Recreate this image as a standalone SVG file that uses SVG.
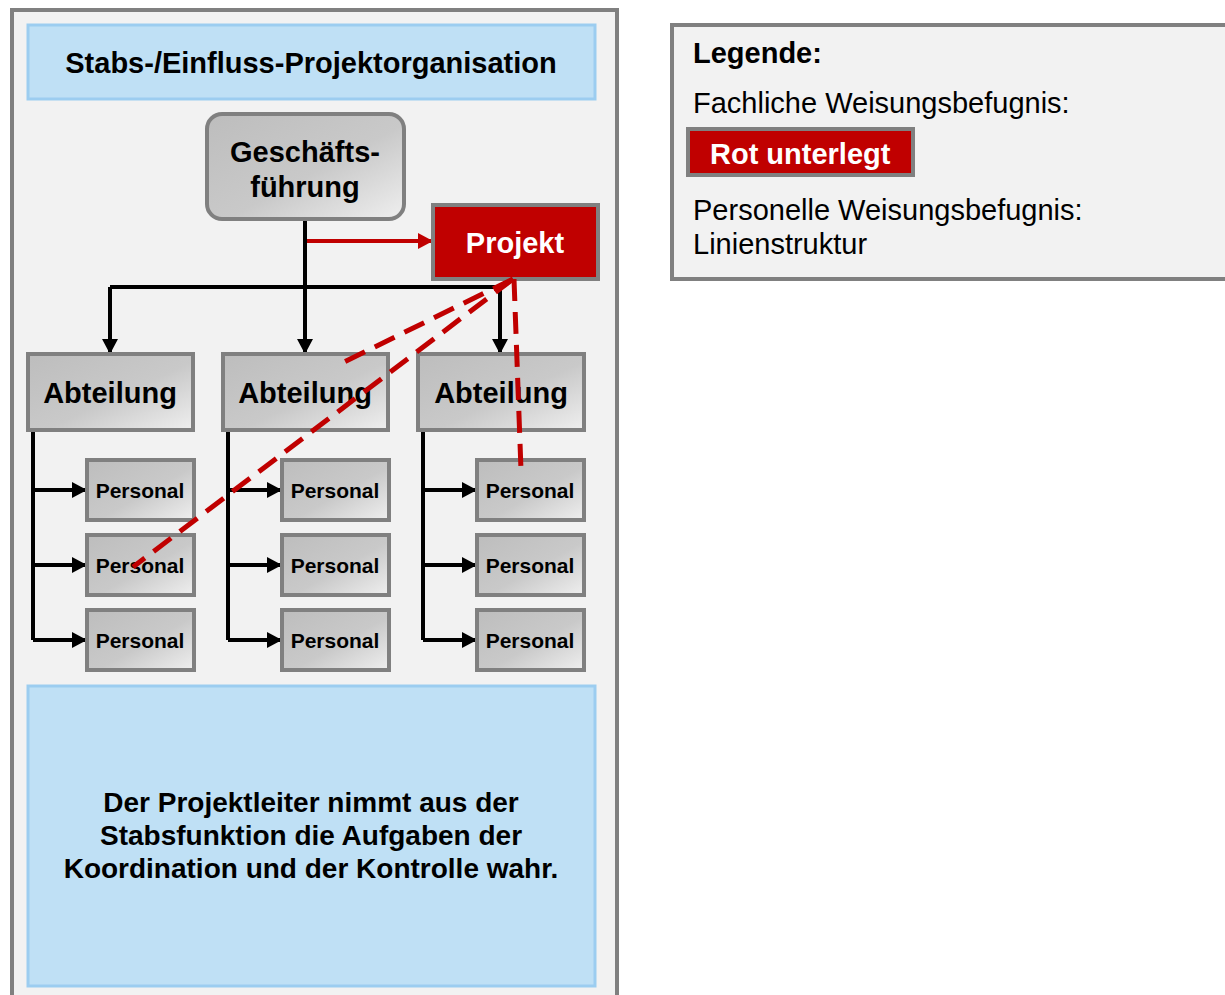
<svg xmlns="http://www.w3.org/2000/svg" width="1225" height="995" viewBox="0 0 1225 995">
<defs>
<linearGradient id="gg" x1="0" y1="0" x2="1" y2="1">
<stop offset="0" stop-color="#bdbdbd"/>
<stop offset="0.55" stop-color="#c9c9c9"/>
<stop offset="1" stop-color="#efefef"/>
</linearGradient>
<marker id="ab" markerWidth="16" markerHeight="16" refX="14" refY="8" orient="auto" markerUnits="userSpaceOnUse">
<path d="M0,0 L15,8 L0,16 Z" fill="#000"/>
</marker>
<marker id="ar" markerWidth="16" markerHeight="16" refX="14" refY="8" orient="auto" markerUnits="userSpaceOnUse">
<path d="M0,0 L15,8 L0,16 Z" fill="#c00000"/>
</marker>
</defs>
<style>
text{font-family:"Liberation Sans",Arial,sans-serif;}
.b{font-weight:bold;}
.box{fill:url(#gg);stroke:#808080;stroke-width:4;}
.blue{fill:#bfe0f5;stroke:#9ccdf0;stroke-width:3;}
.red{fill:#c00000;stroke:#808080;stroke-width:4;}
.ln{fill:none;stroke:#000;stroke-width:4;}
.rd{fill:none;stroke:#c00000;stroke-width:5;stroke-dasharray:22 11;}
.ab{font-size:29px;font-weight:bold;text-anchor:middle;}
.ps{font-size:21px;font-weight:bold;text-anchor:middle;}
.lg{font-size:29px;}
</style>
<rect x="0" y="0" width="1225" height="995" fill="#fff"/>
<g id="panel">
<rect x="12" y="10" width="605" height="1000" fill="#f2f2f2" stroke="#808080" stroke-width="4"/>
</g>
<g id="title">
<rect class="blue" x="28" y="25" width="567" height="74"/>
<text class="b" x="311" y="73" font-size="29" text-anchor="middle">Stabs-/Einfluss-Projektorganisation</text>
</g>
<g id="connectors">
<path class="ln" d="M305,219 V287"/>
<path class="ln" d="M110,287 H500"/>
<path class="ln" d="M110,287 V353" marker-end="url(#ab)"/>
<path class="ln" d="M305,287 V353" marker-end="url(#ab)"/>
<path class="ln" d="M500,287 V353" marker-end="url(#ab)"/>
<path class="ln" d="M33,430 V640"/>
<path class="ln" d="M33,490 H86" marker-end="url(#ab)"/>
<path class="ln" d="M33,565 H86" marker-end="url(#ab)"/>
<path class="ln" d="M33,640 H86" marker-end="url(#ab)"/>
<path class="ln" d="M228,430 V640"/>
<path class="ln" d="M228,490 H281" marker-end="url(#ab)"/>
<path class="ln" d="M228,565 H281" marker-end="url(#ab)"/>
<path class="ln" d="M228,640 H281" marker-end="url(#ab)"/>
<path class="ln" d="M423,430 V640"/>
<path class="ln" d="M423,490 H476" marker-end="url(#ab)"/>
<path class="ln" d="M423,565 H476" marker-end="url(#ab)"/>
<path class="ln" d="M423,640 H476" marker-end="url(#ab)"/>
<path d="M307,241 H432" fill="none" stroke="#c00000" stroke-width="4" marker-end="url(#ar)"/>
</g>
<g id="gf">
<rect class="box" x="207" y="114" width="197" height="105" rx="15"/>
<text class="ab" x="305" y="162">Geschäfts-</text>
<text class="ab" x="305" y="197">führung</text>
</g>
<g id="projekt">
<rect class="red" x="433" y="205" width="165" height="74"/>
<text class="ab" x="515" y="253" fill="#fff">Projekt</text>
</g>
<g id="abt1"><rect class="box" x="28" y="354" width="165" height="76"/><text class="ab" x="110" y="403">Abteilung</text></g>
<g id="abt2"><rect class="box" x="223" y="354" width="165" height="76"/><text class="ab" x="305" y="403">Abteilung</text></g>
<g id="abt3"><rect class="box" x="418" y="354" width="166" height="76"/><text class="ab" x="501" y="403">Abteilung</text></g>
<g id="p11"><rect class="box" x="87" y="460" width="107" height="60"/><text class="ps" x="140" y="498">Personal</text></g>
<g id="p12"><rect class="box" x="87" y="535" width="107" height="60"/><text class="ps" x="140" y="573">Personal</text></g>
<g id="p13"><rect class="box" x="87" y="610" width="107" height="60"/><text class="ps" x="140" y="648">Personal</text></g>
<g id="p21"><rect class="box" x="282" y="460" width="107" height="60"/><text class="ps" x="335" y="498">Personal</text></g>
<g id="p22"><rect class="box" x="282" y="535" width="107" height="60"/><text class="ps" x="335" y="573">Personal</text></g>
<g id="p23"><rect class="box" x="282" y="610" width="107" height="60"/><text class="ps" x="335" y="648">Personal</text></g>
<g id="p31"><rect class="box" x="477" y="460" width="107" height="60"/><text class="ps" x="530" y="498">Personal</text></g>
<g id="p32"><rect class="box" x="477" y="535" width="107" height="60"/><text class="ps" x="530" y="573">Personal</text></g>
<g id="p33"><rect class="box" x="477" y="610" width="107" height="60"/><text class="ps" x="530" y="648">Personal</text></g>
<g id="dashed">
<path class="rd" d="M513,279 L342,363"/>
<path class="rd" d="M513,279 L133,567"/>
<path class="rd" d="M514,279 L521,470"/>
</g>
<g id="note">
<rect class="blue" x="28" y="686" width="567" height="300"/>
<text class="b" font-size="28" text-anchor="middle"><tspan x="311" y="812">Der Projektleiter nimmt aus der</tspan><tspan x="311" y="845">Stabsfunktion die Aufgaben der</tspan><tspan x="311" y="878">Koordination und der Kontrolle wahr.</tspan></text>
</g>
<g id="legend">
<rect x="672" y="25" width="560" height="254" fill="#f2f2f2" stroke="#808080" stroke-width="4"/>
<text class="b lg" x="693" y="63">Legende:</text>
<text class="lg" x="693" y="113">Fachliche Weisungsbefugnis:</text>
<rect class="red" x="688" y="129" width="225" height="46"/>
<text class="b lg" x="710" y="164" fill="#fff">Rot unterlegt</text>
<text class="lg" x="693" y="220">Personelle Weisungsbefugnis:</text>
<text class="lg" x="693" y="254">Linienstruktur</text>
</g>
</svg>
